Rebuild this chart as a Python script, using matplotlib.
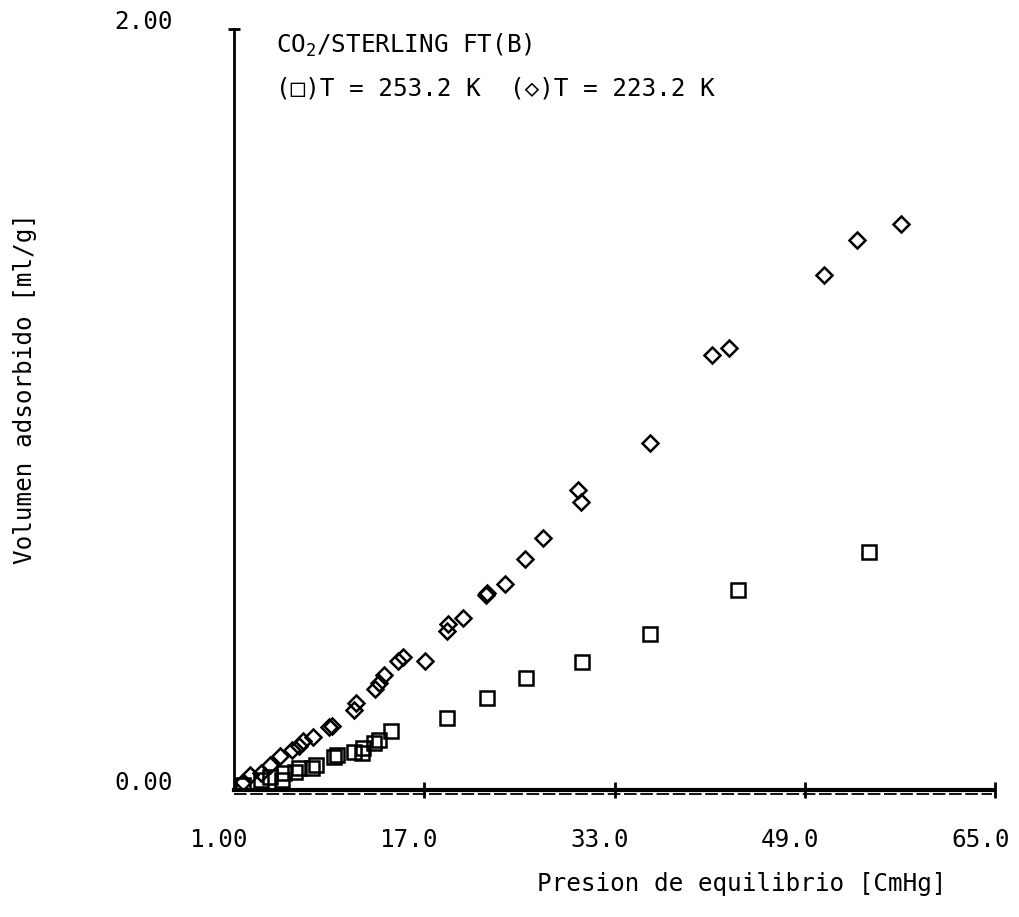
import numpy as np
import matplotlib
matplotlib.use("Agg")
import matplotlib.pyplot as plt
from matplotlib.transforms import ScaledTranslation

plt.rcParams['font.family'] = ['DejaVu Sans Mono', 'DejaVu Sans']
plt.rcParams['mathtext.fontset'] = 'custom'
plt.rcParams['mathtext.rm'] = 'DejaVu Sans Mono'

# isoterma a 253.2 K (cuadrados)
p_253 = [1.8, 3.3, 4.1, 5.1, 5.2, 6.2, 6.5, 7.6, 7.9, 9.4, 9.7, 11.1, 11.8, 11.9,
         12.8, 13.2, 14.2, 18.9, 22.3, 25.6, 30.3, 36.0, 43.4, 54.4]
v_253 = [0.013, 0.026, 0.034, 0.026, 0.045, 0.047, 0.058, 0.058, 0.066, 0.087,
         0.092, 0.100, 0.097, 0.111, 0.124, 0.132, 0.155, 0.189, 0.242, 0.295,
         0.337, 0.411, 0.526, 0.626]

# isoterma a 223.2 K (rombos)
p_223 = [1.76, 2.4, 3.3, 4.1, 4.9, 5.9, 6.5, 6.8, 7.7, 9.0, 9.3, 11.1, 11.25,
         12.9, 13.2, 13.6, 14.8, 15.2, 17.05, 18.9, 19.0, 20.3, 22.2, 22.3,
         23.8, 25.5, 27.0, 30.2, 29.9, 36.0, 41.2, 42.6, 50.6, 53.4, 57.1]
v_223 = [0.021, 0.039, 0.045, 0.066, 0.089, 0.105, 0.116, 0.129, 0.139, 0.166,
         0.168, 0.211, 0.229, 0.266, 0.282, 0.303, 0.339, 0.350, 0.339, 0.418,
         0.437, 0.453, 0.513, 0.518, 0.542, 0.608, 0.663, 0.758, 0.789, 0.911,
         1.142, 1.161, 1.353, 1.445, 1.487]

x_ticks = [1, 17, 33, 49, 65]
x_labels = ["1.00", "17.0", "33.0", "49.0", "65.0"]
y_ticks = [0, 2]
y_labels = ["0.00", "2.00"]

fs = 17.5

fig = plt.figure(figsize=(10.19, 9.17), dpi=100)
ax = fig.add_axes([0.2292, 0.1385, 0.7477, 0.8299])

ax.plot(p_253, v_253, 's', ms=10, mew=1.8, mec='black', mfc='none')
ax.plot(p_223, v_223, 'D', ms=7.8, mew=1.8, mec='black', mfc='none')

ax.set_xlim(1, 65)
ax.set_ylim(0, 2)
for s in ['top', 'right']:
    ax.spines[s].set_visible(False)
ax.spines['left'].set_linewidth(2)
ax.spines['bottom'].set_linewidth(3)
ax.spines['bottom'].set_bounds(1, 64.8)
# segunda pasada del trazador bajo el eje x
ax.plot([0, 0.995], [-0.005, -0.005], transform=ax.transAxes, clip_on=False,
        color='black', lw=1.3, ls=(0, (7, 2)))

ax.set_xticks(x_ticks)
ax.set_xticklabels(x_labels, ha='right')
ax.set_yticks(y_ticks)
ax.set_yticklabels(y_labels, va='baseline')
ax.tick_params(axis='x', direction='inout', length=11, width=2, pad=22,
               labelsize=fs)
ax.tick_params(axis='y', direction='inout', length=8, width=2, pad=40,
               labelsize=fs)
# sin marcas en el origen
ax.xaxis.get_major_ticks()[0].tick1line.set_visible(False)
ax.yaxis.get_major_ticks()[0].tick1line.set_visible(False)
shift = ScaledTranslation(14 / 100, 0, fig.dpi_scale_trans)
for lab in ax.get_xticklabels():
    lab.set_transform(lab.get_transform() + shift)

ax.set_xlabel("Presion de equilibrio [CmHg]", fontsize=fs)
ax.xaxis.set_label_coords(0.667, -0.108)
ax.set_ylabel("Volumen adsorbido [ml/g]", fontsize=fs)
ax.yaxis.set_label_coords(-0.258, 0.528)

ax.text(0.056, 0.979, "CO$_2$/STERLING FT(B)", transform=ax.transAxes,
        fontsize=fs, va='center', ha='left')
ax.text(0.056, 0.922, "(□)T = 253.2 K  (◇)T = 223.2 K", transform=ax.transAxes,
        fontsize=fs, va='center', ha='left')

fig.savefig("out.png", dpi=100)
